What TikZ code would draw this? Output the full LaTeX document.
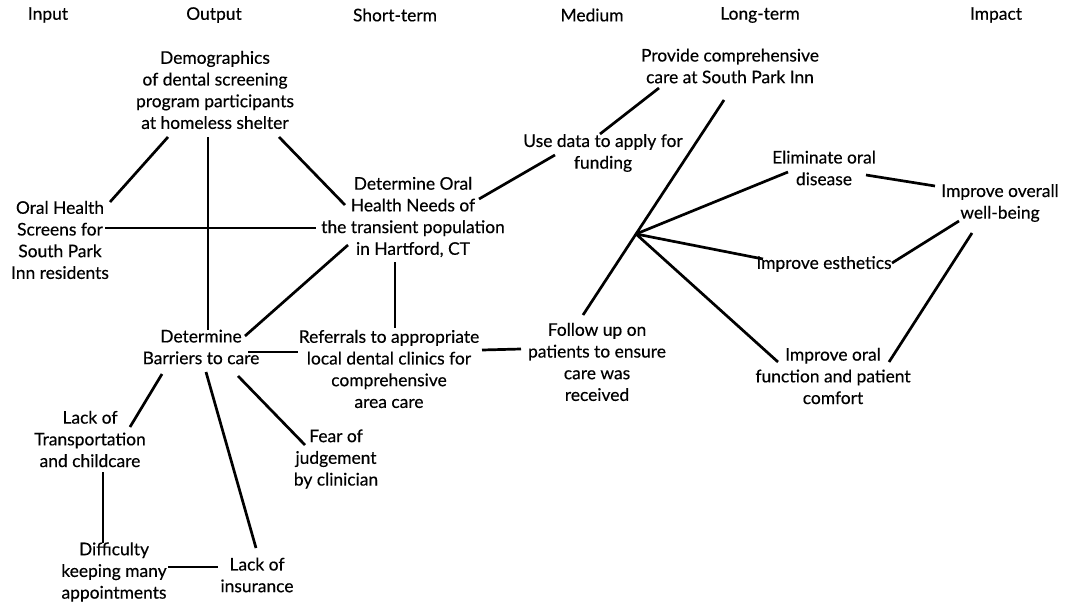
\documentclass[tikz,border=0pt]{standalone}
\usepackage{fontspec}
\setmainfont{Lato}[FakeBold=0.35]
\begin{document}
\begin{tikzpicture}[x=1pt,y=-1pt,
  lbl/.style={align=center, inner sep=0pt, font=\fontsize{17.4}{21.7}\selectfont},
  conn/.style={line width=2.7pt, black}]
\useasboundingbox[fill=white] (0,0) rectangle (1070,607);
% headers
\node[lbl] (hIn)  at (48,15)  {Input};
\node[lbl] (hOut) at (214,15) {Output};
\node[lbl] (hSh)  at (395,15) {Short-term};
\node[lbl] (hMe)  at (592,15) {Medium};
\node[lbl] (hLo)  at (760,15) {Long-term};
\node[lbl] (hIm)  at (996,15) {Impact};
% nodes
\node[lbl] (demo) at (215,90) {Demographics\\of dental screening\\program participants\\at homeless shelter};
\node[lbl] (screens) at (60,240) {Oral Health\\Screens for\\South Park\\Inn residents};
\node[lbl] (needs) at (413,217) {Determine Oral\\Health Needs of\\the transient population\\in Hartford, CT};
\node[lbl] (usedata) at (603,153) {Use data to apply for\\funding};
\node[lbl] (provide) at (730,66) {Provide comprehensive\\care at South Park Inn};
\node[lbl] (elim) at (824,168) {Eliminate oral\\disease};
\node[lbl] (overall) at (1000,203) {Improve overall\\well-being};
\node[lbl] (esth) at (824,264) {Improve esthetics};
\node[lbl] (func) at (833,376) {Improve oral\\function and patient\\comfort};
\node[lbl] (follow) at (597,362) {Follow up on\\patients to ensure\\care was\\received};
\node[lbl] (refer) at (389,369) {Referrals to appropriate\\local dental clinics for\\comprehensive\\area care};
\node[lbl] (barriers) at (201,347) {Determine\\Barriers to care};
\node[lbl] (transp) at (90,439) {Lack of\\Transportation\\and childcare};
\node[lbl] (fear) at (336,459) {Fear of\\judgement\\by clinician};
\node[lbl] (diff) at (114,572) {Difficulty\\keeping many\\appointments};
\node[lbl] (insur) at (257,575) {Lack of\\insurance};
\coordinate (hub) at (636,234);
% connectors
\draw[conn] ([shift={(-47,47)}]demo.center) -- ([shift={(50,-38)}]screens.center);
\draw[conn] ([shift={(-7,47)}]demo.center) -- ([shift={(7,-17)}]barriers.center);
\draw[conn] ([shift={(64,47)}]demo.center) -- ([shift={(-68,-12)}]needs.center);
\draw[conn] ([shift={(45,-12)}]screens.center) -- ([shift={(-97,11)}]needs.center);
\draw[conn] ([shift={(-65,28)}]needs.center) -- ([shift={(44,-11)}]barriers.center);
\draw[conn] ([shift={(-18,45)}]needs.center) -- ([shift={(6,-41)}]refer.center);
\draw[conn] ([shift={(66,-18)}]needs.center) -- ([shift={(-48,2)}]usedata.center);
\draw[conn] ([shift={(-3,-19)}]usedata.center) -- ([shift={(-71,22)}]provide.center);
\draw[conn] ([shift={(-6,34)}]provide.center) -- (hub) -- ([shift={(-14,-47)}]follow.center);
\draw[conn] (hub) -- ([shift={(-36,4)}]elim.center);
\draw[conn] (hub) -- ([shift={(-61,-5)}]esth.center);
\draw[conn] (hub) -- ([shift={(-55,-14)}]func.center);
\draw[conn] ([shift={(42,7)}]elim.center) -- ([shift={(-65,-17)}]overall.center);
\draw[conn] ([shift={(68,-1)}]esth.center) -- ([shift={(-41,18)}]overall.center);
\draw[conn] ([shift={(-28,30)}]overall.center) -- ([shift={(56,-14)}]func.center);
\draw[conn] ([shift={(93,-19)}]refer.center) -- ([shift={(-76,-13)}]follow.center);
\draw[conn] ([shift={(47,5)}]barriers.center) -- ([shift={(-91,-17)}]refer.center);
\draw[conn] ([shift={(-39,27)}]barriers.center) -- ([shift={(40,-12)}]transp.center);
\draw[conn] ([shift={(5,25)}]barriers.center) -- ([shift={(-1,-27)}]insur.center);
\draw[conn] ([shift={(37,29)}]barriers.center) -- ([shift={(-31,-14)}]fear.center);
\draw[conn] ([shift={(13,33)}]transp.center) -- ([shift={(-11,-29)}]diff.center);
\draw[conn] ([shift={(54,-5)}]diff.center) -- ([shift={(-39,-8)}]insur.center);
\end{tikzpicture}
\end{document}
